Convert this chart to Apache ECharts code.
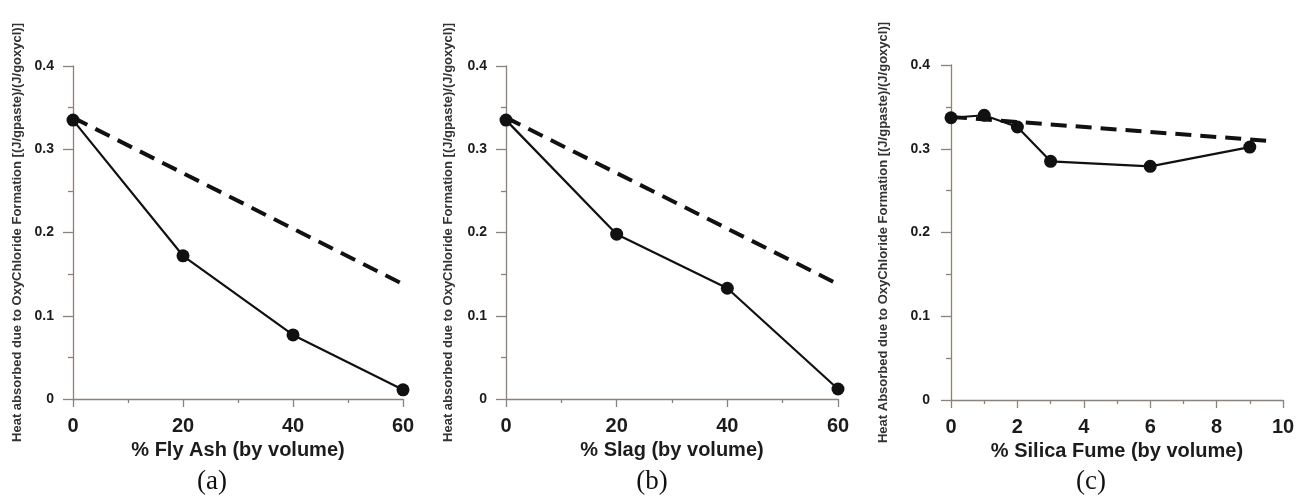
<!DOCTYPE html>
<html>
<head>
<meta charset="utf-8">
<script src="https://cdn.jsdelivr.net/npm/echarts@6/dist/echarts.min.js"></script>
<style>
  html, body { margin: 0; padding: 0; background: #fff; }
  #chart { width: 1307px; height: 502px; }
</style>
</head>
<body>
<div id="chart"></div>
<script>
// (a) fly ash
var flyAshX = [0, 20, 40, 60];
var flyAshY = [0.335, 0.172, 0.077, 0.011];
var flyAshTrendX = [0, 60];
var flyAshTrendY = [0.338, 0.138];
var flyAshTicks = [0, 20, 40, 60];

// (b) slag
var slagX = [0, 20, 40, 60];
var slagY = [0.335, 0.198, 0.133, 0.012];
var slagTrendX = [0, 60];
var slagTrendY = [0.338, 0.138];
var slagTicks = [0, 20, 40, 60];

// (c) silica fume
var sfX = [0, 1, 2, 3, 6, 9];
var sfY = [0.337, 0.340, 0.326, 0.285, 0.279, 0.302];
var sfTrendX = [0, 9.7];
var sfTrendY = [0.338, 0.309];
var sfTicks = [0, 2, 4, 6, 8, 10];

var yTicks = [0, 0.1, 0.2, 0.3, 0.4];

var xNames = ['% Fly Ash (by volume)', '% Slag (by volume)', '% Silica Fume (by volume)'];
var yNames = [
  'Heat absorbed due to OxyChloride Formation [(J/gpaste)/(J/goxycl)]',
  'Heat absorbed due to OxyChloride Formation [(J/gpaste)/(J/goxycl)]',
  'Heat Absorbed due to OxyChloride Formation [(J/gpaste)/(J/goxycl)]'
];
var panelLabels = ['(a)', '(b)', '(c)'];

var axisColor = '#8c827c';
var txtColor = '#1c1c1c';
var font = 'Liberation Sans, Arial, sans-serif';

function zip(xs, ys) {
  return xs.map(function (x, i) { return [x, ys[i]]; });
}

function xAxisFor(i, ticks) {
  return {
    type: 'value', gridIndex: i,
    min: ticks[0], max: ticks[ticks.length - 1], interval: ticks[1] - ticks[0],
    name: xNames[i], nameLocation: 'middle', nameGap: 39,
    nameTextStyle: { fontFamily: font, fontWeight: 'bold', fontSize: 20, color: txtColor },
    axisLine: { show: true, lineStyle: { color: axisColor, width: 1.3 } },
    axisTick: { show: true, length: 8, lineStyle: { color: axisColor, width: 1.3 } },
    minorTick: { show: true, splitNumber: 2, length: 4, lineStyle: { color: axisColor, width: 1.3 } },
    axisLabel: { margin: 17, fontFamily: font, fontWeight: 'bold', fontSize: 20, color: txtColor },
    splitLine: { show: false }
  };
}

function yAxisFor(i, gap, lblMargin) {
  return {
    type: 'value', gridIndex: i,
    min: yTicks[0], max: yTicks[yTicks.length - 1], interval: yTicks[1] - yTicks[0],
    name: yNames[i], nameLocation: 'middle', nameGap: gap,
    nameTextStyle: { fontFamily: font, fontWeight: 'bold', fontSize: 13, color: '#333' },
    axisLine: { show: true, lineStyle: { color: axisColor, width: 1.3 } },
    axisTick: { show: true, length: 10, lineStyle: { color: axisColor, width: 1.3 } },
    minorTick: { show: true, splitNumber: 2, length: 5, lineStyle: { color: axisColor, width: 1.3 } },
    axisLabel: {
      margin: lblMargin, fontFamily: font, fontWeight: 'bold', fontSize: 14, color: txtColor,
      formatter: function (v) { return v === 0 ? '0' : v.toFixed(1); }
    },
    splitLine: { show: false }
  };
}

function dataSeries(i, xs, ys) {
  return {
    type: 'line', xAxisIndex: i, yAxisIndex: i,
    data: zip(xs, ys),
    symbol: 'circle', symbolSize: 13,
    itemStyle: { color: '#111' },
    lineStyle: { color: '#111', width: 2.2 },
    z: 3, animation: false
  };
}

function trendSeries(i, xs, ys) {
  return {
    type: 'line', xAxisIndex: i, yAxisIndex: i,
    data: zip(xs, ys),
    showSymbol: false, symbol: 'none',
    lineStyle: { color: '#111', width: 4, type: [16, 9] },
    z: 2, animation: false
  };
}

var chart = echarts.init(document.getElementById('chart'));
var labelCenters = [212, 652, 1091];

var option = {
  backgroundColor: '#fff',
  animation: false,
  grid: [
    { left: 73, top: 66, width: 330, height: 333 },
    { left: 506, top: 66, width: 332, height: 333 },
    { left: 951, top: 65, width: 332, height: 335 }
  ],
  xAxis: [
    xAxisFor(0, flyAshTicks),
    xAxisFor(1, slagTicks),
    xAxisFor(2, sfTicks)
  ],
  yAxis: [
    yAxisFor(0, 49, 19),
    yAxisFor(1, 51, 19),
    yAxisFor(2, 61, 21)
  ],
  series: [
    trendSeries(0, flyAshTrendX, flyAshTrendY),
    dataSeries(0, flyAshX, flyAshY),
    trendSeries(1, slagTrendX, slagTrendY),
    dataSeries(1, slagX, slagY),
    trendSeries(2, sfTrendX, sfTrendY),
    dataSeries(2, sfX, sfY)
  ],
  graphic: panelLabels.map(function (t, i) {
    return {
      type: 'text', x: labelCenters[i], y: 482,
      style: {
        text: t, fill: '#111', fontFamily: 'Liberation Serif, Times New Roman, serif',
        fontSize: 27, textAlign: 'center', textVerticalAlign: 'middle'
      }
    };
  })
};

chart.setOption(option);
</script>
</body>
</html>
